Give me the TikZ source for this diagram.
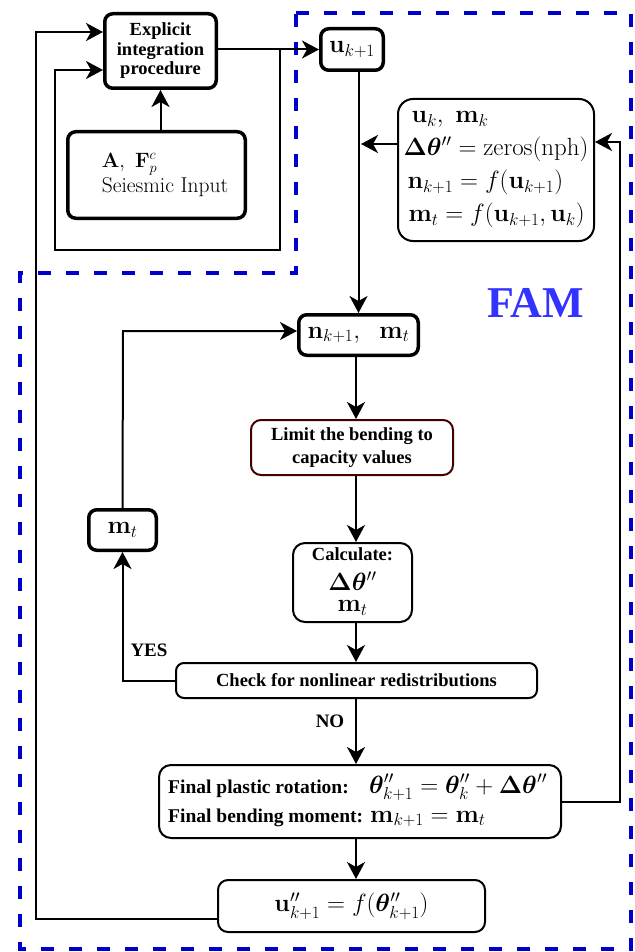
\documentclass[tikz,border=0pt]{standalone}
\usepackage{amsmath,bm}
\usepackage[no-math]{fontspec}
\newfontfamily\tms{Liberation Serif}
\usetikzlibrary{arrows.meta,calc}
\definecolor{dashblue}{RGB}{0,0,205}
\definecolor{famblue}{RGB}{51,51,255}
\definecolor{limred}{RGB}{70,0,0}
\newcommand{\pp}{^{\prime\prime}}
\newcommand{\dth}{\mathbf{\Delta}\bm{\theta}\pp}
\tikzset{
  arr/.style={line width=2pt,-{Stealth[length=17pt,width=18pt,inset=5pt]}},
  heavy/.style={draw,line width=3.5pt,rounded corners=8pt,inner sep=0pt},
  light/.style={draw,line width=2pt,rounded corners=10pt,inner sep=0pt},
  bt/.style={font=\tms\bfseries\fontsize{18.5}{21}\selectfont,inner sep=0pt},
  mth/.style={font=\fontsize{24}{30}\selectfont,inner sep=0pt},
}
\begin{document}
\begin{tikzpicture}[x=1pt,y=-1pt]
\useasboundingbox (0,0) rectangle (634,952);

% FAM region outline
\draw[dashblue,line width=4.5pt,dash pattern=on 13pt off 15pt]
  (296,13) -- (631,13) -- (631,949) -- (20,949) -- (20,273) -- (296,273) -- cycle;
\node[font=\tms\bfseries\fontsize{44}{44}\selectfont,text=famblue,inner sep=0pt] (fam) at (535.5,303) {FAM};

% integration part
\node[heavy,minimum width=111.5pt,minimum height=74.5pt,align=center,
      font=\tms\bfseries\fontsize{18.5}{19.5}\selectfont] (expl) at (160.5,51)
      {Explicit\\integration\\procedure};
\node[heavy,minimum width=177.5pt,minimum height=86.5pt,align=left,
      font=\fontsize{21.5}{25}\selectfont] (seis) at (156.5,175)
      {\hspace*{17pt}$\mathbf{A},\ \mathbf{F}_p^c$\\\hspace*{17pt}Seiesmic Input};
\node[heavy,minimum width=62.5pt,minimum height=41.5pt,font=\fontsize{25}{30}\selectfont] (u) at (352,49.5)
      {$\mathbf{u}_{k+1}$};

% initial state
\node[draw,line width=2pt,rounded corners=15pt,minimum width=196pt,minimum height=142pt,
      align=left,inner sep=0pt,font=\fontsize{24.5}{33}\selectfont] (init) at (496,170)
      {\hspace*{8pt}$\mathbf{u}_k,\ \mathbf{m}_k$\\
       $\dth = \mathrm{zeros(nph)}$\\
       \hspace*{4pt}$\mathbf{n}_{k+1} = f(\mathbf{u}_{k+1})$\\
       \hspace*{5pt}$\mathbf{m}_t = f(\mathbf{u}_{k+1}, \mathbf{u}_k)$};

% FAM iteration
\node[heavy,minimum width=119.5pt,minimum height=40.5pt,font=\fontsize{25}{30}\selectfont] (n) at (358.5,335)
      {$\mathbf{n}_{k+1},\ \ \mathbf{m}_t$};
\node[draw=limred,line width=2pt,rounded corners=10pt,minimum width=202pt,minimum height=55pt,
      align=center,inner sep=0pt,font=\tms\bfseries\fontsize{18.5}{23.5}\selectfont] (lim) at (352,447.5)
      {Limit the bending to\\capacity values};
\node[light,rounded corners=12pt,minimum width=119pt,minimum height=79pt] (calc) at (352.5,582.5) {};
\node[bt,anchor=base] (calcT) at (352.5,560) {Calculate:};
\node[mth,font=\fontsize{25}{30}\selectfont,align=center] (calcV) at (352.5,594)
      {$\dth$\\[-9pt]$\mathbf{m}_t$};
\node[heavy,minimum width=67.5pt,minimum height=40.5pt,font=\fontsize{23}{28}\selectfont] (mt) at (122.5,530)
      {$\mathbf{m}_t$};
\node[light,rounded corners=8pt,minimum width=361pt,minimum height=35pt,bt] (check) at (356.5,680.5)
      {Check for nonlinear redistributions};
\node[light,rounded corners=12pt,minimum width=402pt,minimum height=73pt] (final) at (360,801.5) {};
\node[bt,font=\tms\bfseries\fontsize{19.5}{21}\selectfont,anchor=base west] (finA) at (168,793) {Final plastic rotation:};
\node[bt,font=\tms\bfseries\fontsize{19.5}{21}\selectfont,anchor=base west] (finB) at (168,822) {Final bending moment:};
\node[mth,anchor=base west] (finC) at (369,793)
      {$\bm{\theta}\pp_{k+1} = \bm{\theta}\pp_{k} + \dth$};
\node[mth,anchor=base west] (finD) at (370,822) {$\mathbf{m}_{k+1} = \mathbf{m}_t$};
\node[light,rounded corners=10pt,minimum width=267pt,minimum height=52pt,mth] (upp) at (351.5,906)
      {$\mathbf{u}\pp_{k+1} = f(\bm{\theta}\pp_{k+1})$};

\node[bt,font=\tms\bfseries\fontsize{19}{19}\selectfont] (yes) at (149,650) {YES};
\node[bt,font=\tms\bfseries\fontsize{19}{19}\selectfont] (no) at (330,721.5) {NO};

% routing points
\coordinate (col) at (356,0);
\coordinate (innerBR) at (280,250);
\coordinate (innerBL) at (55,250);
\coordinate (innerTL) at (55,70);
\coordinate (outBL) at (36,919);
\coordinate (outTL) at (36,32);
\coordinate (initRow) at (361,144);
\coordinate (rtTop) at (620,142);
\coordinate (mtTop) at (123,331);

% connectors
\draw[arr] (expl.east |- u.west) -- (u.west);
\draw[arr] (innerBR |- u.west) -- (innerBR) -- (innerBL) -- (innerTL) -- (expl.west |- innerTL);
\draw[arr] (seis.north -| expl.south) -- (expl.south);
\draw[arr] (upp.west |- outBL) -- (outBL) -- (outTL) -- (expl.west |- outTL);
\draw[arr] (n.north |- u.south) -- (n.north);
\draw[arr] (init.west |- initRow) -- (initRow);
\draw[arr] (final.east) -| (rtTop) -- (init.east |- rtTop);
\draw[arr] (n.south -| col) -- (lim.north -| col);
\draw[arr] (lim.south -| col) -- (calc.north -| col);
\draw[arr] (calc.south -| col) -- (check.north -| col);
\draw[arr] (check.south -| col) -- (final.north -| col);
\draw[arr] (final.south -| col) -- (upp.north -| col);
\draw[arr] (check.west) -| (mt.south);
\draw[arr] (mt.north) -- (mtTop) -- (n.west |- mtTop);
\end{tikzpicture}
\end{document}
